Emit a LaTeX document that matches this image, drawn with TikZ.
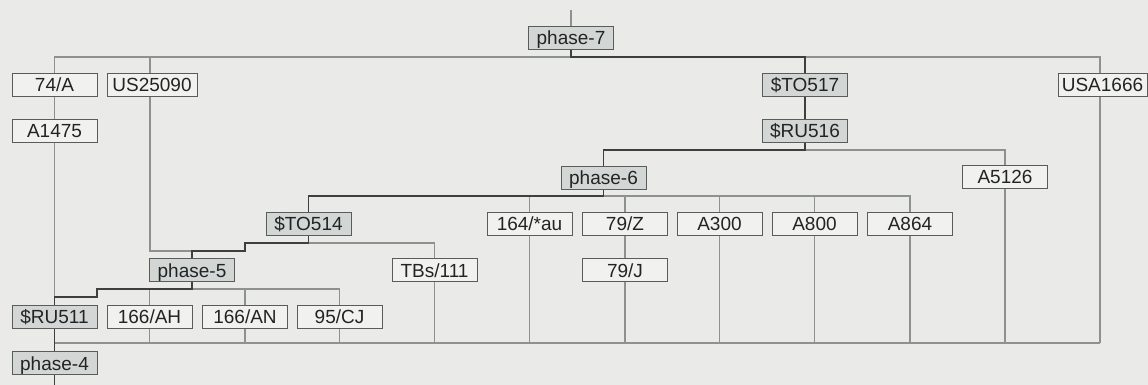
\documentclass[tikz,border=0pt]{standalone}
\usepackage{fontspec}
\setmainfont{Liberation Sans}
\pgfdeclarelayer{bg}
\pgfdeclarelayer{lines}
\pgfsetlayers{bg,lines,main}
\definecolor{bgc}{HTML}{EAEBE9}
\definecolor{gfill}{HTML}{D2D6D5}
\definecolor{wfill}{HTML}{F1F2F0}
\definecolor{boxline}{HTML}{5A5C5C}
\definecolor{darkline}{HTML}{3E3F3F}
\definecolor{thinline}{HTML}{8E9191}
\definecolor{txt}{HTML}{222424}
\begin{document}
\begin{tikzpicture}[x=1pt,y=-1pt,
  box/.style={draw=boxline, line width=0.9pt, minimum width=85pt, minimum height=23pt,
    inner sep=0pt, text height=16pt, text depth=2pt,
    font=\fontsize{19}{22}\selectfont, text=txt},
  gbox/.style={box, fill=gfill},
  wbox/.style={box, fill=wfill},
  lineage/.style={draw=darkline, line width=1.8pt},
  side/.style={draw=thinline, line width=1.1pt}]
\useasboundingbox (0,0) rectangle (1148,385);
\begin{pgfonlayer}{bg}
\fill[bgc] (0,0) rectangle (1148,385);
\end{pgfonlayer}

% nodes
\node[gbox] (p7) at (571,38) {phase-7};
\node[wbox] (a74) at (54.5,84.5) {74/A};
\node[wbox, minimum width=90pt] (us) at (152,84.5) {US25090};
\node[wbox] (a1475) at (54.5,131) {A1475};
\node[gbox] (to517) at (805,84.5) {\$TO517};
\node[wbox, minimum width=89pt] (usa) at (1102.5,84.5) {USA1666};
\node[gbox] (ru516) at (805,131) {\$RU516};
\node[gbox] (p6) at (603.5,177.5) {phase-6};
\node[wbox] (a5126) at (1005,176.5) {A5126};
\node[gbox] (to514) at (308.5,223.5) {\$TO514};
\node[wbox] (au) at (529.5,223.5) {164/*au};
\node[wbox] (z79) at (625,223.5) {79/Z};
\node[wbox] (a300) at (719.5,223.5) {A300};
\node[wbox] (a800) at (814.5,223.5) {A800};
\node[wbox] (a864) at (910,223.5) {A864};
\node[gbox] (p5) at (192,270) {phase-5};
\node[wbox] (tbs) at (434.5,270) {TBs/111};
\node[wbox] (j79) at (625,270) {79/J};
\node[gbox] (ru511) at (54.5,316.5) {\$RU511};
\node[wbox] (ah) at (149.5,316.5) {166/AH};
\node[wbox] (an) at (245,316.5) {166/AN};
\node[wbox] (cj) at (339.5,316.5) {95/CJ};
\node[gbox] (p4) at (54.5,363) {phase-4};

% junction coordinates
\coordinate (top) at (571,10);
\coordinate (j7) at (571,57);
\coordinate (j516) at (805,150);
\coordinate (j6) at (603.5,196);
\coordinate (j514) at (308.5,243);
\coordinate (j5) at (192,289);
\coordinate (bot) at (54.5,385);
\coordinate (base) at (54.5,343);

\begin{pgfonlayer}{lines}
% thin side branches
\draw[side] (top) -- (p7.north);
\draw[side] (j7) -| (a74.north);
\draw[side] (a74.south) -- (a1475.north);
\draw[side] (a1475.south) -- (54.5,297);
\draw[side] (150,57) -- (150,251) -- (192,251);
\draw[side] (to517.north |- j7) -| (usa.north -| 1100,0);
\draw[side] (1100,57) -- (1100,343);
\draw[side] (j516) -| (a5126.north);
\draw[side] (a5126.south) -- (1005,343);
\draw[side] (j6) -| (a864.north);
\draw[side] (a864.south) -- (910,343);
\draw[side] (au.north |- j6) -- (au.north);
\draw[side] (au.south) -- (529.5,343);
\draw[side] (z79.north |- j6) -- (z79.north);
\draw[side] (z79.south) -- (j79.north);
\draw[side] (j79.south) -- (625,343);
\draw[side] (a300.north |- j6) -- (a300.north);
\draw[side] (a300.south) -- (719.5,343);
\draw[side] (a800.north |- j6) -- (a800.north);
\draw[side] (a800.south) -- (814.5,343);
\draw[side] (j514) -| (tbs.north);
\draw[side] (tbs.south) -- (434.5,343);
\draw[side] (j5) -| (cj.north);
\draw[side] (cj.south) -- (339.5,343);
\draw[side] (ah.north |- j5) -- (ah.north);
\draw[side] (ah.south) -- (149.5,343);
\draw[side] (an.north |- j5) -- (an.north);
\draw[side] (an.south) -- (245,343);
\draw[side] (base) -- (1100,343);
% main lineage
\draw[lineage] (p7.south) -- (j7) -| (to517.north);
\draw[lineage] (to517.south) -- (ru516.north);
\draw[lineage] (ru516.south) -- (j516) -| (p6.north);
\draw[lineage] (p6.south) -- (j6) -| (to514.north);
\draw[lineage] (to514.south) -- (j514) -- (245,243) -- (245,251) -- (192,251) -- (p5.north);
\draw[lineage] (p5.south) -- (j5) -- (97,289) -- (97,297) -- (54.5,297) -- (ru511.north);
\draw[lineage] (ru511.south) -- (p4.north);
\draw[lineage] (p4.south) -- (bot);
\end{pgfonlayer}
\end{tikzpicture}
\end{document}
